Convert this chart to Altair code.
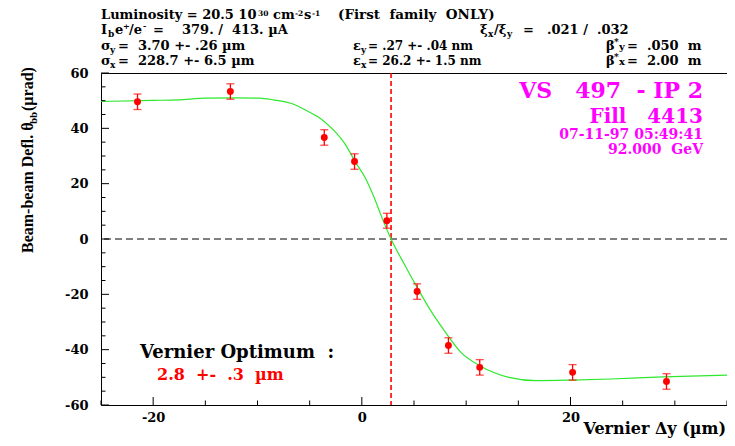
import altair as alt
import pandas as pd

# ---------------- data ----------------
pt_x = [-21.5, -12.6, -3.6, -0.7, 2.4, 5.3, 8.3, 11.3, 20.2, 29.2]
pt_y = [49.6, 53.3, 36.7, 28.0, 6.6, -19.0, -38.5, -46.4, -48.2, -51.5]
pt_err = [2.8, 2.8, 2.8, 2.8, 2.7, 2.8, 2.8, 2.8, 2.8, 2.8]

fit_x = [-25, -20, -17.6, -15, -12, -9.8, -8.5, -6.6, -5.4, -4.1, -2.8, -1.6, -0.6,
         0.3, 1.2, 2.0, 2.8, 4.1, 5.3, 6.6, 7.9, 9.5, 11.3, 14.1, 16.7, 20.1, 23.9, 28.9, 35]
fit_y = [49.7, 50.1, 50.3, 50.9, 51.0, 50.9, 50.3, 48.8, 46.6, 43.9, 39.7, 34.3, 27.7,
         22.3, 14.8, 7.0, 0.0, -9.3, -17.5, -25.9, -33.1, -41.0, -45.8, -50.0, -51.2,
         -51.0, -50.6, -49.8, -49.2]

optimum = [2.8]
zero_line = [0]

x_major = [-20, 0, 20]
x_minor = [-25, -15, -10, -5, 5, 10, 15, 25, 30, 35]
y_major = [-60, -40, -20, 0, 20, 40, 60]
y_minor = [-55, -50, -45, -35, -30, -25, -15, -10, -5, 5, 10, 15, 25, 30, 35, 45, 50, 55]

x_domain = [-25, 35]
y_domain = [-60, 60]

# ---------------- layout ----------------
W, H = 626, 332
PAD = {"left": 93, "top": 65, "right": 0, "bottom": 33}
OX, OY = 8 + PAD["left"], 8 + PAD["top"]   # page coords of plot origin

SERIF_W = "DejaVu Serif"
SERIF_N = "Liberation Serif"
NB = "\u00a0"

xs = alt.Scale(domain=x_domain, nice=False, zero=False)
ys = alt.Scale(domain=y_domain, nice=False, zero=False)
xax = alt.Axis(values=x_major, tickSize=0, domain=False, grid=False, title=None,
               labelFont=SERIF_W, labelFontWeight="bold", labelFontSize=13,
               labelColor="black", labelPadding=6, labelFlush=False,
               labelExpr="'' + datum.value")
yax = alt.Axis(values=y_major, tickSize=0, domain=False, grid=False, title=None,
               labelFont=SERIF_W, labelFontWeight="bold", labelFontSize=13,
               labelColor="black", labelPadding=13, labelExpr="'' + datum.value")


def X(f):
    return alt.X(f, type="quantitative", scale=xs, axis=xax)


def Y(f):
    return alt.Y(f, type="quantitative", scale=ys, axis=yax)


pts = pd.DataFrame({"x": pt_x, "y": pt_y, "e": pt_err})
pts["lo"] = pts["y"] - pts["e"]
pts["hi"] = pts["y"] + pts["e"]
fit = pd.DataFrame({"x": fit_x, "y": fit_y})

layers = []

layers.append(alt.Chart(pd.DataFrame({"y": zero_line})).mark_rule(
    color="black", strokeWidth=1, strokeDash=[7, 4]).encode(y=Y("y")))
layers.append(alt.Chart(pd.DataFrame({"x": optimum})).mark_rule(
    color="#ff0000", strokeWidth=1.6, strokeDash=[5, 3]).encode(x=X("x")))

layers.append(alt.Chart(fit).mark_line(color="#2ee82e", strokeWidth=1.2,
                                       interpolate="monotone").encode(x=X("x"), y=Y("y")))

layers.append(alt.Chart(pts).mark_rule(color="#ff0000", strokeWidth=1.3).encode(
    x=X("x"), y=Y("lo"), y2="hi"))
for f in ["lo", "hi"]:
    layers.append(alt.Chart(pts).mark_tick(color="#ff0000", orient="horizontal",
                                           size=8, thickness=1.3).encode(x=X("x"), y=Y(f)))
layers.append(alt.Chart(pts).mark_point(filled=True, shape="circle", size=48,
                                        color="#ff0000", opacity=1).encode(x=X("x"), y=Y("y")))

# inward ticks
for vals, ln in [(y_major, 8), (y_minor, 4.5)]:
    layers.append(alt.Chart(pd.DataFrame({"v": vals})).mark_rule(
        color="black", strokeWidth=1).encode(y=Y("v"), x=alt.value(0), x2=alt.value(ln)))
for vals, ln in [(x_major, 8), (x_minor, 4.5)]:
    layers.append(alt.Chart(pd.DataFrame({"v": vals})).mark_rule(
        color="black", strokeWidth=1).encode(x=X("v"), y=alt.value(H), y2=alt.value(H - ln)))


def label(text, px, py, size=13, color="black", font=SERIF_W, weight="bold",
          align="left", angle=0):
    return alt.Chart(pd.DataFrame({"t": [text]})).mark_text(
        x=px - OX, y=py - OY, fontSize=size, color=color, font=font,
        fontWeight=weight, align=align, baseline="alphabetic", angle=angle
    ).encode(text="t:N")


# header text: (text, x, baseline, size)
header = [
    ("Luminosity = 20.5 10", 101, 19, 13), ("30", 258, 15.5, 7.5), ("cm", 273, 19, 13),
    ("-2", 295, 15.5, 7.5), ("s", 304, 19, 13), ("-1", 312, 15.5, 7.5),
    ("(First" + NB + " family" + NB + " ONLY)", 338, 19, 13.5),
    ("I", 101, 34, 13), ("b", 108, 37, 9), ("e", 115, 34, 13), ("+", 123, 29, 8),
    ("/e", 129, 34, 13), ("-", 143, 29, 8),
    ("=" + NB * 3 + " 379. /" + NB + " 413. \u00b5A", 153, 34, 13),
    ("\u03be", 480, 34, 13), ("x", 488, 37, 9), ("/\u03be", 494, 34, 13), ("y", 507, 37, 9),
    ("=", 523, 34, 13), (".021 /" + NB + " .032", 547, 34, 13),
    ("\u03c3", 101, 49.5, 13), ("y", 110, 52.5, 9), ("=" + NB + " 3.70 +- .26 \u00b5m", 118, 49.5, 13),
    ("\u03b5", 353, 49.5, 13), ("y", 361, 52.5, 9), ("= .27 +- .04 nm", 368, 49.5, 12),
    ("\u03b2", 606, 49.5, 13), ("*", 614, 44.5, 9), ("y", 619, 49.5, 10),
    ("=" + NB + " .050" + NB + " m", 627, 49.5, 13),
    ("\u03c3", 101, 65, 13), ("x", 110, 68, 9), ("=" + NB + " 228.7 +- 6.5 \u00b5m", 118, 65, 13),
    ("\u03b5", 353, 65, 13), ("x", 361, 68, 9), ("= 26.2 +- 1.5 nm", 368, 65, 12),
    ("\u03b2", 606, 65, 13), ("*", 614, 60, 9), ("x", 619, 65, 10),
    ("=" + NB + " 2.00" + NB + " m", 627, 65, 13),
]
for t, px, py, s in header:
    layers.append(label(t, px, py, size=s))

# magenta run info (right aligned)
MAG = "#ff00ff"
for t, py, s in [("VS" + NB * 2 + " 497" + NB + " - IP 2", 98, 22),
                 ("Fill" + NB * 3 + "4413", 122.5, 20),
                 ("07-11-97 05:49:41", 138.5, 14),
                 ("92.000" + NB + " GeV", 153.5, 14)]:
    layers.append(label(t, 703, py, size=s, color=MAG, align="right"))

# vernier optimum
layers.append(label("Vernier Optimum" + NB + " :", 140, 358, size=18))
layers.append(label("2.8" + NB + " +-" + NB + " .3" + NB + " \u00b5m", 157, 380, size=16,
                    color="#ff0000"))

# axis titles
layers.append(label("Vernier \u0394y (\u00b5m)", 726, 434, size=16, align="right"))
layers.append(label("Beam-beam Defl. \u03b8", 33, 253, size=16, font=SERIF_N, angle=270))
layers.append(label("bb", 37, 124, size=11, font=SERIF_N, angle=270))
layers.append(label(" (\u00b5rad)", 33, 111, size=16, font=SERIF_N, angle=270))

chart = alt.layer(*layers).properties(
    width=W, height=H,
    autosize=alt.AutoSizeParams(type="none"),
    padding=PAD,
).configure_view(stroke="black", strokeWidth=1)

chart.save("out.html", embed_options={"renderer": "svg", "actions": False})
